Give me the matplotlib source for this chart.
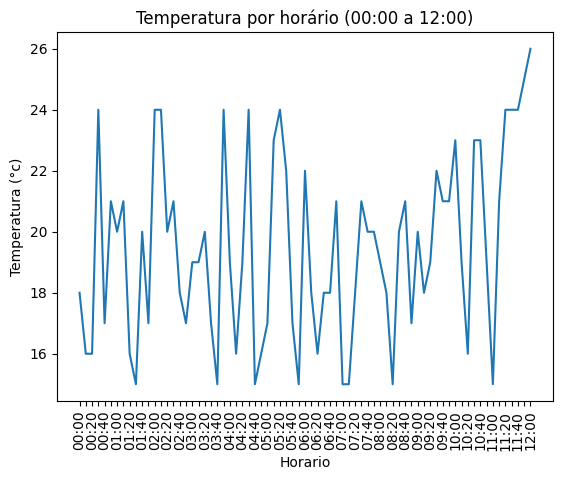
import matplotlib
matplotlib.use("Agg")
import matplotlib.pyplot as plt

temperaturas = [18, 16, 16, 24, 17, 21, 20, 21, 16, 15,
                20, 17, 24, 24, 20, 21, 18, 17, 19, 19,
                20, 17, 15, 24, 19, 16, 19, 24, 15, 16,
                17, 23, 24, 22, 17, 15, 22, 18, 16, 18,
                18, 21, 15, 15, 18, 21, 20, 20, 19, 18,
                15, 20, 21, 17, 20, 18, 19, 22, 21, 21,
                23, 19, 16, 23, 23, 19, 15, 21, 24, 24,
                24, 25, 26]

horarios = [f"{(i * 10) // 60:02d}:{(i * 10) % 60:02d}" for i in range(len(temperaturas))]
rotulos = [h if i % 2 == 0 else "" for i, h in enumerate(horarios)]

fig = plt.figure(figsize=(5.63, 4.8), dpi=100)
ax = fig.add_axes([57 / 563, 1 - 401 / 480, (553 - 57) / 563, (401 - 32) / 480])
pos = list(range(len(horarios)))
ax.plot(pos, temperaturas)
ax.set_xticks(pos)
ax.set_xticklabels(rotulos, rotation=90)
ax.set_title("Temperatura por horário (00:00 a 12:00)")
ax.set_xlabel("Horario")
ax.set_ylabel("Temperatura (°c)")
fig.savefig("out.png", dpi=100)
